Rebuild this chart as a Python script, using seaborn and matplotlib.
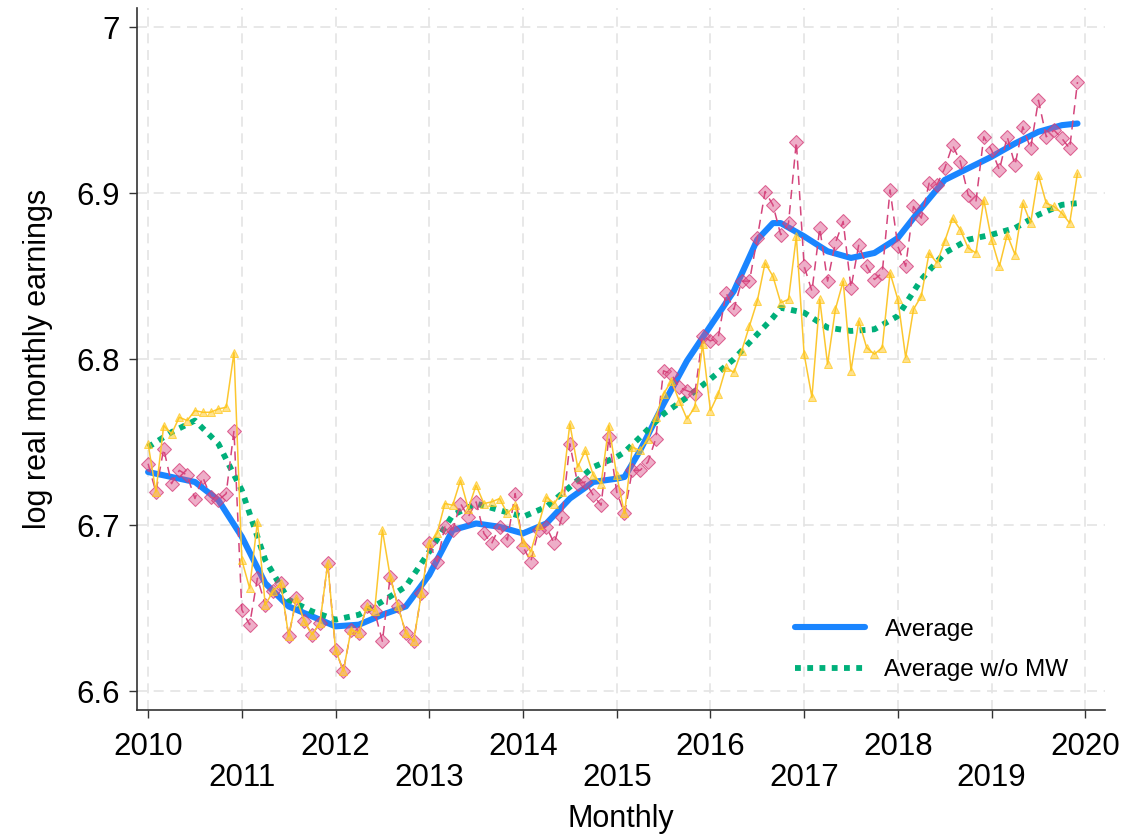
import numpy as np
import pandas as pd
import matplotlib
matplotlib.use("Agg")
import matplotlib.pyplot as plt
import seaborn as sns

# monthly observations, 2010m1 .. 2019m12
earn_all = [6.737, 6.720, 6.746, 6.725, 6.733, 6.730, 6.716, 6.729, 6.717, 6.715, 6.719, 6.757,
            6.649, 6.640, 6.668, 6.652, 6.660, 6.665, 6.633, 6.656, 6.642, 6.634, 6.641, 6.677,
            6.625, 6.612, 6.637, 6.635, 6.651, 6.648, 6.630, 6.669, 6.651, 6.635, 6.630, 6.659,
            6.689, 6.678, 6.699, 6.697, 6.713, 6.705, 6.714, 6.695, 6.689, 6.699, 6.691, 6.719,
            6.687, 6.678, 6.697, 6.699, 6.689, 6.705, 6.749, 6.725, 6.726, 6.718, 6.712, 6.753,
            6.720, 6.707, 6.733, 6.733, 6.738, 6.752, 6.793, 6.791, 6.783, 6.781, 6.779, 6.814,
            6.811, 6.813, 6.840, 6.830, 6.847, 6.847, 6.873, 6.901, 6.893, 6.875, 6.882, 6.931,
            6.856, 6.841, 6.879, 6.847, 6.870, 6.883, 6.843, 6.869, 6.856, 6.848, 6.852, 6.902,
            6.868, 6.856, 6.892, 6.885, 6.906, 6.905, 6.915, 6.929, 6.919, 6.899, 6.895, 6.934,
            6.926, 6.914, 6.934, 6.917, 6.940, 6.927, 6.956, 6.934, 6.938, 6.933, 6.927, 6.967]

earn_nomw = [6.749, 6.720, 6.760, 6.755, 6.765, 6.763, 6.769, 6.768, 6.768, 6.770, 6.771, 6.804,
             6.679, 6.662, 6.702, 6.652, 6.660, 6.665, 6.633, 6.656, 6.642, 6.634, 6.641, 6.677,
             6.625, 6.612, 6.637, 6.635, 6.651, 6.648, 6.697, 6.669, 6.651, 6.635, 6.630, 6.659,
             6.689, 6.695, 6.713, 6.712, 6.727, 6.710, 6.724, 6.713, 6.714, 6.716, 6.707, 6.712,
             6.690, 6.684, 6.700, 6.717, 6.713, 6.720, 6.761, 6.735, 6.745, 6.730, 6.725, 6.760,
             6.730, 6.707, 6.747, 6.745, 6.752, 6.765, 6.779, 6.787, 6.775, 6.764, 6.771, 6.809,
             6.769, 6.779, 6.795, 6.792, 6.805, 6.820, 6.835, 6.858, 6.850, 6.834, 6.836, 6.874,
             6.803, 6.777, 6.836, 6.797, 6.830, 6.847, 6.793, 6.823, 6.807, 6.803, 6.807, 6.852,
             6.836, 6.801, 6.830, 6.838, 6.864, 6.858, 6.871, 6.885, 6.878, 6.867, 6.864, 6.896,
             6.872, 6.856, 6.875, 6.863, 6.894, 6.882, 6.911, 6.894, 6.892, 6.888, 6.882, 6.912]

# smoothed averages, read at selected months
smooth_month = [0, 3, 6, 9, 12, 15, 18, 21, 24, 27, 30, 33, 36, 39, 42, 45, 48, 51, 54, 57,
                60, 61, 63, 66, 69, 72, 75, 78, 80, 81, 84, 87, 90, 93, 96, 99, 102, 105,
                108, 111, 114, 117, 119]
avg_smooth = [6.732, 6.729, 6.726, 6.715, 6.693, 6.665, 6.651, 6.645, 6.639, 6.640, 6.646, 6.651,
              6.670, 6.697, 6.701, 6.699, 6.695, 6.701, 6.716, 6.726, 6.728, 6.729, 6.745, 6.773,
              6.799, 6.820, 6.841, 6.872, 6.882, 6.882, 6.874, 6.865, 6.861, 6.864, 6.873, 6.891,
              6.908, 6.915, 6.922, 6.930, 6.937, 6.941, 6.942]
nomw_smooth = [6.747, 6.756, 6.763, 6.749, 6.721, 6.679, 6.655, 6.648, 6.643, 6.646, 6.654, 6.663,
               6.684, 6.706, 6.713, 6.709, 6.705, 6.711, 6.723, 6.735, 6.741, 6.744, 6.753, 6.767,
               6.777, 6.788, 6.800, 6.815, 6.825, 6.831, 6.828, 6.819, 6.817, 6.818, 6.826, 6.848,
               6.864, 6.872, 6.875, 6.879, 6.887, 6.893, 6.894]

years = list(range(2010, 2021))
year_labels = [str(y) if y % 2 == 0 else "\n" + str(y) for y in years]

monthly = pd.DataFrame({"t": 2010 + np.arange(len(earn_all)) / 12,
                        "all": earn_all, "nomw": earn_nomw})
smooth = pd.DataFrame({"t": 2010 + np.array(smooth_month) / 12,
                       "avg": avg_smooth, "nomw": nomw_smooth})

sns.set_theme(style="white")
plt.rcParams["font.family"] = ["Liberation Sans", "DejaVu Sans"]
plt.rcParams["text.color"] = "black"
plt.rcParams["axes.labelcolor"] = "black"
plt.rcParams["xtick.color"] = "black"
plt.rcParams["ytick.color"] = "black"

blue = "#1a85ff"
green = "#00b07a"

fig = plt.figure(figsize=(11.25, 8.34), dpi=100)
ax = fig.add_axes([0.1218, 0.1487, 0.8604, 0.8413])

sns.lineplot(data=smooth, x="t", y="avg", ax=ax, color=blue, lw=4.4,
             label="Average", zorder=3)
sns.lineplot(data=smooth, x="t", y="nomw", ax=ax, color=green, lw=4.2,
             linestyle=(0, (1, 1.1)), label="Average w/o MW", zorder=3)
sns.lineplot(data=monthly, x="t", y="all", ax=ax, color="#d4457c", lw=1.1,
             linestyle=(0, (6, 4)), marker="D", markersize=7,
             markerfacecolor=(0.86, 0.3, 0.52, 0.45),
             markeredgecolor=(0.83, 0.22, 0.46, 0.75),
             legend=False, zorder=4)
sns.lineplot(data=monthly, x="t", y="nomw", ax=ax, color="#fcc730", lw=1.1,
             marker="^", markersize=6,
             markerfacecolor=(1.0, 0.78, 0.1, 0.5),
             markeredgecolor=(1.0, 0.78, 0.1, 0.7),
             legend=False, zorder=4)

ax.set_xlim(2009.882, 2020.21)
ax.set_ylim(6.5886, 7.0114)
ax.set_xticks(years)
ax.set_xticklabels(year_labels)
ax.set_yticks([6.6, 6.7, 6.8, 6.9, 7.0])
ax.set_yticklabels(["6.6", "6.7", "6.8", "6.9", "7"])
ax.tick_params(axis="both", which="major", labelsize=22.5, length=6,
               width=1.0, color="#333333", direction="out", bottom=True, left=True)
ax.tick_params(axis="x", pad=10)
ax.tick_params(axis="y", pad=6)
for lab in ax.get_xticklabels():
    lab.set_linespacing(1.03)

ax.grid(True, color="#e4e4e4", linestyle=(0, (6, 4)), lw=1.2)
ax.set_axisbelow(True)
for side in ["top", "right"]:
    ax.spines[side].set_visible(False)
for side in ["left", "bottom"]:
    ax.spines[side].set_color("#333333")
    ax.spines[side].set_linewidth(1.2)

ax.set_xlabel("Monthly", fontsize=22, labelpad=8)
ax.set_ylabel("log real monthly earnings", fontsize=22, labelpad=17)

leg = ax.legend(loc="lower right", bbox_to_anchor=(0.985, 0.010), frameon=False,
                fontsize=17.5, handlelength=2.9, handletextpad=0.8,
                labelspacing=0.75)

fig.savefig("out.png", dpi=100)
